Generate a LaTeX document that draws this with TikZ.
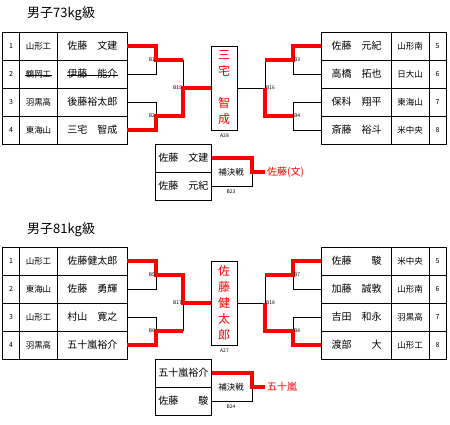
\documentclass[tikz,border=0pt]{standalone}
\usepackage{fontspec}
\setmainfont{Noto Sans CJK JP}
\begin{document}
\begin{tikzpicture}[x=1pt,y=-1pt,
  cellbase/.style={draw, line width=0.9pt, inner sep=0pt, minimum height=28pt},
  numc/.style={cellbase, minimum width=17pt, font=\fontsize{7}{7}\selectfont},
  schc/.style={cellbase, minimum width=38pt, font=\fontsize{8.5}{8.5}\selectfont},
  namec/.style={cellbase, minimum width=69.5pt, font=\fontsize{10}{10}\selectfont},
  repc/.style={cellbase, minimum width=55.3pt, font=\fontsize{10}{10}\selectfont},
  titlet/.style={anchor=west, inner sep=0pt, font=\fontsize{13}{13}\selectfont},
  finalbox/.style={draw, line width=0.9pt, minimum width=26pt, minimum height=84pt, inner sep=0pt, align=center, text=red, font=\fontsize{12}{16}\selectfont},
  lbl/.style={inner sep=0.3pt, font=\fontsize{5}{5}\selectfont},
  bl/.style={draw=black, line width=0.8pt},
  rl/.style={draw=red, line width=3.5pt, line join=miter},
  restext/.style={anchor=west, inner sep=2pt, text=red, font=\fontsize{10}{10}\selectfont},
  rctext/.style={inner sep=0pt, font=\fontsize{8.5}{8.5}\selectfont}
]
\useasboundingbox (0,0) rectangle (450,425);

% ================= 73kg =================
\node[titlet] (aT) at (27,14) {男子73kg級};
% left table
\node[numc] (aN1) at (11,46) {1};  \node[schc] (aS1) at (38.5,46) {山形工};  \node[namec] (aP1) at (92.25,46) {佐藤　文建};
\node[numc] (aN2) at (11,74) {2};  \node[schc] (aS2) at (38.5,74) {鶴岡工};  \node[namec] (aP2) at (92.25,74) {伊藤　能介};
\node[numc] (aN3) at (11,102) {3}; \node[schc] (aS3) at (38.5,102) {羽黒高}; \node[namec] (aP3) at (92.25,102) {後藤裕太郎};
\node[numc] (aN4) at (11,130) {4}; \node[schc] (aS4) at (38.5,130) {東海山}; \node[namec] (aP4) at (92.25,130) {三宅　智成};
\draw[line width=0.6pt] (25,75.5) -- (52,75.5);
\draw[line width=0.6pt] (67,75.5) -- (118,75.5);
% right table
\node[namec] (aQ5) at (356.5,46) {佐藤　元紀};  \node[schc] (aU5) at (410,46) {山形南};  \node[numc] (aM5) at (437.5,46) {5};
\node[namec] (aQ6) at (356.5,74) {高橋　拓也};  \node[schc] (aU6) at (410,74) {日大山};  \node[numc] (aM6) at (437.5,74) {6};
\node[namec] (aQ7) at (356.5,102) {保科　翔平}; \node[schc] (aU7) at (410,102) {東海山}; \node[numc] (aM7) at (437.5,102) {7};
\node[namec] (aQ8) at (356.5,130) {斎藤　裕斗}; \node[schc] (aU8) at (410,130) {米中央}; \node[numc] (aM8) at (437.5,130) {8};
% final
\node[finalbox] (aF) at (224,88) {三\\宅\\　\\智\\成};
\node[lbl] (aA) at (224.5,136) {A28};
% junctions
\coordinate (aJ1) at (156,60);
\coordinate (aJ2) at (156,116);
\coordinate (aJ15) at (183,88);
\coordinate (aJ3) at (293,60);
\coordinate (aJ4) at (293,116);
\coordinate (aJ16) at (265,88);
% black lines
\draw[bl] (aP2.east) -| (aJ1);
\draw[bl] (aP3.east) -| (aJ2);
\draw[bl] (aJ1 -| aJ15) -- (aJ15);
\draw[bl] (aQ6.west) -| (aJ3);
\draw[bl] (aJ3 -| aJ16) -- (aJ16);
\draw[bl] (aF.east) -- (aJ16);
\draw[bl] (aQ7.west) -| (aJ4);
\draw[bl] (aQ8.west) -| (aJ4);
% red lines
\draw[rl] (aP1.east) -| (aJ1) -- (aJ1 -| aJ15);
\draw[rl] (aP4.east) -| (aJ2) -- (aJ2 -| aJ15) -- (aJ15) -- (aF.west);
\draw[rl] (aQ5.west) -| (aJ3) -- (aJ3 -| aJ16);
\draw[rl] (aJ16) |- (aJ4);
% labels
\node[lbl, anchor=east] (aB1) at (155.5,60) {B1};
\node[lbl, anchor=east] (aB2) at (155.5,116) {B2};
\node[lbl, anchor=east] (aB15) at (182.5,88) {B15};
\node[lbl, anchor=west] (aB3) at (293.5,60) {B3};
\node[lbl, anchor=west] (aB4) at (293.5,116) {B4};
\node[lbl, anchor=west] (aB16) at (265.5,88) {B16};
% repechage
\node[repc] (aR1) at (183.4,158) {佐藤　文建};
\node[repc] (aR2) at (183.4,186) {佐藤　元紀};
\coordinate (aJ23) at (252,172);
\node[rctext] (aRC) at (231,172.5) {補決戦};
\node[lbl] (aB23) at (231,192) {B23};
\node[restext] (aRes) at (265,172) {佐藤(文)};
\draw[bl] (aR2.east) -| (aJ23);
\draw[rl] (aR1.east) -| (aJ23) -- (aRes.west);

% ================= 81kg =================
\begin{scope}[shift={(0,215)}]
\node[titlet] (bT) at (27,15) {男子81kg級};
\node[numc] (bN1) at (11,46) {1};  \node[schc] (bS1) at (38.5,46) {山形工};  \node[namec] (bP1) at (92.25,46) {佐藤健太郎};
\node[numc] (bN2) at (11,74) {2};  \node[schc] (bS2) at (38.5,74) {東海山};  \node[namec] (bP2) at (92.25,74) {佐藤　勇輝};
\node[numc] (bN3) at (11,102) {3}; \node[schc] (bS3) at (38.5,102) {山形工}; \node[namec] (bP3) at (92.25,102) {村山　寛之};
\node[numc] (bN4) at (11,130) {4}; \node[schc] (bS4) at (38.5,130) {羽黒高}; \node[namec] (bP4) at (92.25,130) {五十嵐裕介};
\node[namec] (bQ5) at (356.5,46) {佐藤　　駿};  \node[schc] (bU5) at (410,46) {米中央};  \node[numc] (bM5) at (437.5,46) {5};
\node[namec] (bQ6) at (356.5,74) {加藤　誠敦};  \node[schc] (bU6) at (410,74) {山形南};  \node[numc] (bM6) at (437.5,74) {6};
\node[namec] (bQ7) at (356.5,102) {吉田　和永}; \node[schc] (bU7) at (410,102) {羽黒高}; \node[numc] (bM7) at (437.5,102) {7};
\node[namec] (bQ8) at (356.5,130) {渡部　　大}; \node[schc] (bU8) at (410,130) {山形工}; \node[numc] (bM8) at (437.5,130) {8};
\node[finalbox] (bF) at (224,88) {佐\\藤\\健\\太\\郎};
\node[lbl] (bA) at (224.5,136) {A27};
\coordinate (bJ1) at (156,60);
\coordinate (bJ2) at (156,116);
\coordinate (bJ17) at (183,88);
\coordinate (bJ3) at (293,60);
\coordinate (bJ4) at (293,116);
\coordinate (bJ18) at (265,88);
\draw[bl] (bP2.east) -| (bJ1);
\draw[bl] (bP3.east) -| (bJ2);
\draw[bl] (bJ2 -| bJ17) -- (bJ17);
\draw[bl] (bQ6.west) -| (bJ3);
\draw[bl] (bJ3 -| bJ18) -- (bJ18);
\draw[bl] (bF.east) -- (bJ18);
\draw[bl] (bQ7.west) -| (bJ4);
\draw[rl] (bP1.east) -| (bJ1) -- (bJ1 -| bJ17) -- (bJ17) -- (bF.west);
\draw[rl] (bP4.east) -| (bJ2) -- (bJ2 -| bJ17);
\draw[rl] (bQ5.west) -| (bJ3) -- (bJ3 -| bJ18);
\draw[rl] (bJ18) |- (bJ4) |- (bQ8.west);
\node[lbl, anchor=east] (bB5) at (155.5,60) {B5};
\node[lbl, anchor=east] (bB6) at (155.5,116) {B6};
\node[lbl, anchor=east] (bB17) at (182.5,88) {B17};
\node[lbl, anchor=west] (bB7) at (293.5,60) {B7};
\node[lbl, anchor=west] (bB8) at (293.5,116) {B8};
\node[lbl, anchor=west] (bB18) at (265.5,88) {B18};
\node[repc] (bR1) at (183.4,158) {五十嵐裕介};
\node[repc] (bR2) at (183.4,186) {佐藤　　駿};
\coordinate (bJ24) at (252,172);
\node[rctext] (bRC) at (231,172.5) {補決戦};
\node[lbl] (bB24) at (231,192) {B24};
\node[restext] (bRes) at (265,172) {五十嵐};
\draw[bl] (bR2.east) -| (bJ24);
\draw[rl] (bR1.east) -| (bJ24) -- (bRes.west);
\end{scope}
\end{tikzpicture}
\end{document}
